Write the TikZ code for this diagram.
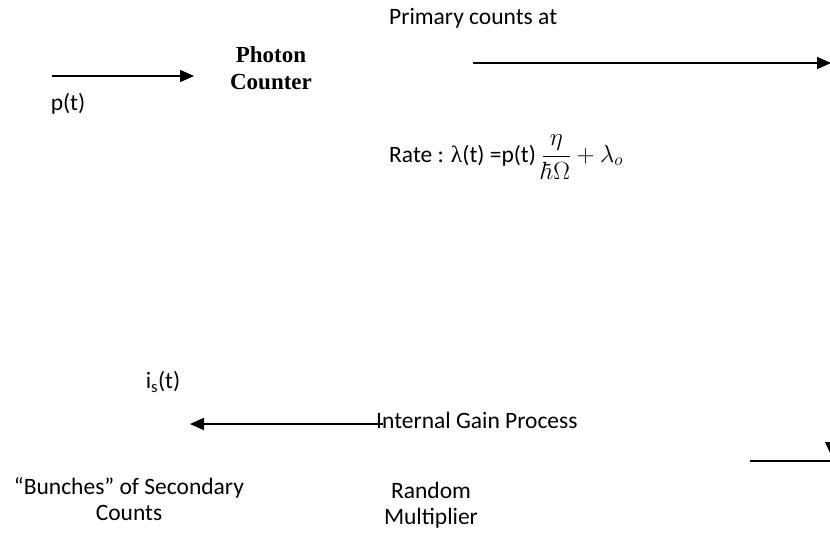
\documentclass[tikz,border=0pt]{standalone}
\usepackage{amsmath}
\usepackage{fontspec}
\setmainfont{Carlito}
\newfontfamily\serifbold{Liberation Serif}
\usetikzlibrary{arrows.meta}
\tikzset{
  lbl/.style={inner sep=0pt, font=\fontsize{23.5}{26}\selectfont, align=center},
  flow/.style={line width=1.6pt, -{Triangle[length=14pt,width=12pt]}},
  plain/.style={line width=1.6pt}
}
\begin{document}
\begin{tikzpicture}[x=1pt,y=-1pt]
\useasboundingbox (0,0) rectangle (830,535);
% top-left input
\coordinate (inS) at (52,76);
\coordinate (inE) at (194,76);
\draw[flow] (inS) -- (inE);
\node[lbl] (pt) at (68,104) {p(t)};
\node[inner sep=0pt, align=center, font=\serifbold\bfseries\fontsize{23}{27}\selectfont] (pc) at (271,68) {Photon\\Counter};
% primary counts
\node[lbl, anchor=west] (prim) at (389,18) {Primary counts at};
\coordinate (pS) at (473,63);
\coordinate (pE) at (831,63);
\draw[flow] (pS) -- (pE);
\node[lbl, anchor=west] (rate) at (389,157) {Rate : {\serifbold λ}(t) =p(t) $\dfrac{\eta}{\hbar\Omega}+\lambda_o$};
% secondary
\node[lbl] (is) at (163,382) {i\textsubscript{s}(t)};
\node[lbl, anchor=west] (igp) at (376,420) {Internal Gain Process};
\coordinate (gE) at (190,424);
\coordinate (gS) at (383,424);
\draw[flow] (gS) -- (gE);
\coordinate (bS) at (750,461);
\coordinate (bE) at (831,461);
\draw[plain] (bS) -- (bE);
\fill (825,442) -- (836,442) -- (830.5,454) -- cycle;
\node[lbl] (bunch) at (129,499) {“Bunches” of Secondary\\Counts};
\node[lbl] (rm) at (431,505) {Random\\Multiplier};
\end{tikzpicture}
\end{document}
